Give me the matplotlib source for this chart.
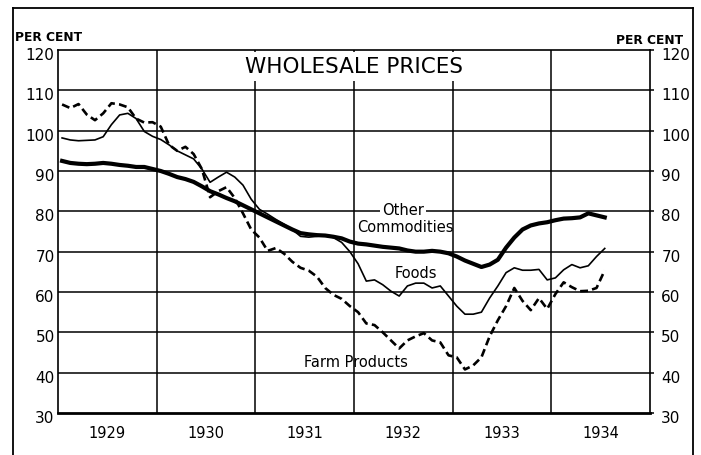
import numpy as np
import matplotlib
matplotlib.use('Agg')
import matplotlib.pyplot as plt
import matplotlib.transforms as mtransforms
from matplotlib.lines import Line2D

# monthly index numbers, Jan 1929 .. Jul 1934
other_commodities = [92.5, 92, 91.8, 91.7, 91.8, 92, 91.8, 91.5, 91.3, 91, 91, 90.5,
                     90, 89.3, 88.5, 88, 87.3, 86.2, 85, 84.2, 83.3, 82.5, 81.5, 80.5,
                     79.5, 78.5, 77.5, 76.5, 75.5, 74.6, 74.3, 74.1, 74, 73.7, 73.3, 72.5,
                     72, 71.8, 71.5, 71.2, 71, 70.8, 70.3, 70, 70, 70.2, 70, 69.6,
                     68.8, 67.8, 67, 66.2, 66.8, 68, 71, 73.5, 75.5, 76.5, 77, 77.3,
                     77.8, 78.2, 78.3, 78.5, 79.5, 79, 78.5]
foods = [98.2, 97.7, 97.5, 97.6, 97.7, 98.5, 101.5, 103.9, 104.3, 103, 99.8, 98.6,
         97.8, 96.5, 95, 94, 93, 90.5, 87.2, 88.5, 89.7, 88.5, 86.5, 83,
         80.5, 79.3, 78, 76.8, 75.5, 73.8, 73.6, 73.8, 74, 73.5, 72.3, 70,
         67, 62.7, 63, 61.8, 60.2, 59, 61.5, 62.2, 62.2, 61, 61.5, 59,
         56.5, 54.5, 54.5, 55, 58.5, 61.5, 64.8, 66, 65.4, 65.4, 65.6, 63,
         63.5, 65.5, 66.8, 66, 66.5, 68.8, 70.8]
farm_products = [106.5, 105.6, 106.6, 104, 102.6, 104.3, 106.8, 106.5, 105.8, 103, 102, 102.1,
                 101, 96.5, 95, 96, 94.2, 90.5, 83.5, 85, 86, 83.3, 79.5, 75.5,
                 73.5, 70.2, 70.9, 69.5, 67.5, 66, 65.3, 63.8, 61, 59.3, 58.3, 56.5,
                 55, 52.2, 51.8, 50, 48, 46, 48, 49, 49.8, 48, 47.5, 44.3,
                 43.8, 40.8, 41.8, 43.8, 49, 53, 56.5, 61, 57.8, 55.5, 58.5, 55.8,
                 59.5, 62.4, 61.2, 60.2, 60.3, 61, 65.4]
years = [1929, 1930, 1931, 1932, 1933, 1934]
yticks = [30, 40, 50, 60, 70, 80, 90, 100, 110, 120]

t = 1929 + (np.arange(len(foods)) + 0.5) / 12

fig = plt.figure(figsize=(7.01, 4.55), dpi=100)
ax = fig.add_axes([0.0827, 0.0923, 0.8445, 0.7978])

for y in yticks[1:-1]:
    ax.axhline(y, color='black', lw=1.1, zorder=1)
for yr in years[1:]:
    ax.axvline(yr, color='black', lw=1.1, zorder=1)

ax.plot(t, farm_products, color='black', lw=1.9, dashes=(3, 1.6), zorder=3)
ax.plot(t, foods, color='black', lw=1.2, zorder=3)
ax.plot(t, other_commodities, color='black', lw=3.0, zorder=4)

ax.set_xlim(1929, 1935)
ax.set_ylim(30, 120)
ax.set_yticks(yticks)
ax.tick_params(axis='y', labelleft=True, labelright=True, left=False, right=True,
               length=3, width=1.1, labelsize=11, pad=3)
ax.set_xticks([y + 0.5 for y in years])
ax.set_xticklabels([str(y) for y in years])
ax.tick_params(axis='x', length=0, labelsize=10.5, pad=9)
for s in ax.spines.values():
    s.set_linewidth(1.2)
ax.spines['bottom'].set_linewidth(2.0)

# numbers sit a little below their grid lines
down = mtransforms.ScaledTranslation(0, -0.04, fig.dpi_scale_trans)
for tick in ax.yaxis.get_major_ticks():
    tick.label1.set_transform(tick.label1.get_transform() + down
                              + mtransforms.ScaledTranslation(0.05, 0, fig.dpi_scale_trans))
    tick.label2.set_transform(tick.label2.get_transform() + down
                              + mtransforms.ScaledTranslation(0.03, 0, fig.dpi_scale_trans))

ax.text(1932.0, 115.9, 'WHOLESALE PRICES', ha='center', va='center', fontsize=15.5,
        bbox=dict(facecolor='white', edgecolor='none', pad=3.5), zorder=5)
ax.text(1932.5, 80.1, 'Other', ha='center', va='center', fontsize=10.5,
        bbox=dict(facecolor='white', edgecolor='none', pad=1.5), zorder=5)
ax.text(1932.52, 76.1, 'Commodities', ha='center', va='center', fontsize=10.5, zorder=5)
ax.text(1932.63, 64.7, 'Foods', ha='center', va='center', fontsize=10.5, zorder=5)
ax.text(1932.02, 42.5, 'Farm Products', ha='center', va='center', fontsize=10.5, zorder=5)

fig.text(0.021, 0.9165, 'PER CENT', fontsize=8.8, fontweight='bold', ha='left', va='center')
fig.text(0.975, 0.912, 'PER CENT', fontsize=8.8, fontweight='bold', ha='right', va='center')

# outer frame
fl, fr, ft = 0.0185, 0.9886, 0.982
for xs, ys in [([fl, fl], [0, ft]), ([fl, fr], [ft, ft]), ([fr, fr], [ft, 0])]:
    fig.add_artist(Line2D(xs, ys, color='black', lw=1.3))

fig.savefig('out.png', dpi=100)
